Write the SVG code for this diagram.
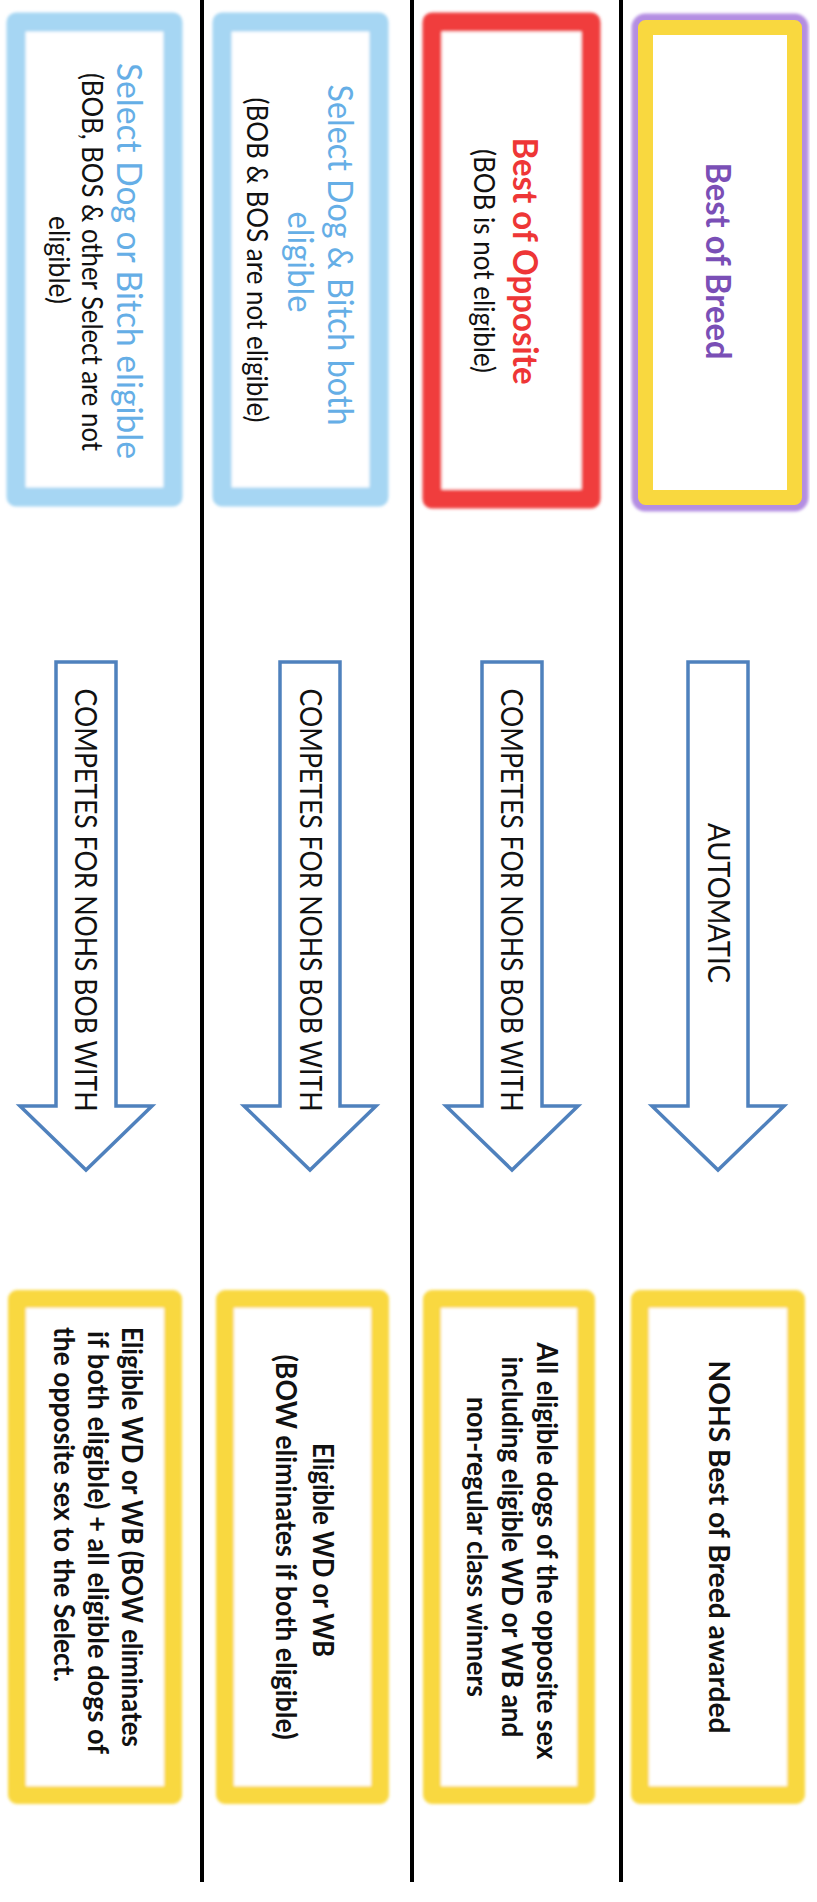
<svg xmlns="http://www.w3.org/2000/svg" xmlns:xlink="http://www.w3.org/1999/xlink" width="817" height="1902" viewBox="0 0 817 1902">
<style>
  text { font-family: Lato, "Open Sans", "Liberation Sans", sans-serif; }
  .title { font-size: 35px; text-anchor: middle; }
  .bold { font-weight: bold; }
  .note { font-size: 28px; fill: #111; text-anchor: middle; }
  .arrowtxt { font-size: 31px; fill: #111; text-anchor: middle; }
  .out { font-size: 28px; font-weight: bold; fill: #111; text-anchor: middle; }
  .outl { font-size: 28px; font-weight: bold; fill: #111; text-anchor: start; }
  .blue { fill: #65aee6; }
  .red { fill: #ee3636; }
  .purple { fill: #7a4fb6; }
  .sep { stroke: #000; stroke-width: 4; fill: none; }
  .bbox { fill: #fff; stroke: #a6d6f3; stroke-width: 19; stroke-linejoin: round; }
  .rbox { fill: #fff; stroke: #f03d3d; stroke-width: 19; stroke-linejoin: round; }
  .ybox { fill: #fff; stroke: #f9d83f; stroke-width: 18; stroke-linejoin: round; }
  .pglow { fill: none; stroke: #b48ee2; stroke-width: 28; stroke-linejoin: round; }
  .yin { fill: #fff; stroke: #f9d83f; stroke-width: 15; stroke-linejoin: round; }
  .arrow { fill: #fff; stroke: #4f81bd; stroke-width: 3.5; stroke-linejoin: miter; }
</style>
<defs>
  <filter id="soft" x="-10%" y="-10%" width="120%" height="120%">
    <feGaussianBlur stdDeviation="1.4"/>
  </filter>
  <path id="blockArrow" d="M-30,662 H30 V1106 H66 L0,1170 L-66,1106 H-30 Z"/>
</defs>
<rect x="0" y="0" width="817" height="1902" fill="#fff"/>

<g id="separators">
  <line class="sep" x1="202" y1="0" x2="202" y2="1882"/>
  <line class="sep" x1="412" y1="0" x2="412" y2="1882"/>
  <line class="sep" x1="621" y1="0" x2="621" y2="1882"/>
</g>

<!-- Top row -->
<g id="select-dog-or-bitch">
  <rect class="bbox" x="16" y="22" width="157" height="475" filter="url(#soft)"/>
  <text class="title blue" transform="translate(117,261) rotate(90)" textLength="396" lengthAdjust="spacingAndGlyphs">Select Dog or Bitch eligible</text>
  <text class="note" transform="translate(82,262) rotate(90)" textLength="378" lengthAdjust="spacingAndGlyphs">(BOB, BOS &amp; other Select are not</text>
  <text class="note" transform="translate(49,260) rotate(90)" textLength="88" lengthAdjust="spacingAndGlyphs">eligible)</text>
</g>

<g id="select-dog-and-bitch">
  <rect class="bbox" x="222" y="22" width="157" height="475" filter="url(#soft)"/>
  <text class="title blue" transform="translate(328,255) rotate(90)" textLength="341" lengthAdjust="spacingAndGlyphs">Select Dog &amp; Bitch both</text>
  <text class="title blue" transform="translate(288,262) rotate(90)" textLength="101" lengthAdjust="spacingAndGlyphs">eligible</text>
  <text class="note" transform="translate(247,260) rotate(90)" textLength="325" lengthAdjust="spacingAndGlyphs">(BOB &amp; BOS are not eligible)</text>
</g>

<g id="best-of-opposite">
  <rect class="rbox" x="432" y="22" width="159" height="477" filter="url(#soft)"/>
  <text class="title bold red" transform="translate(513,261) rotate(90)" textLength="247" lengthAdjust="spacingAndGlyphs">Best of Opposite</text>
  <text class="note" transform="translate(474,261) rotate(90)" textLength="224" lengthAdjust="spacingAndGlyphs">(BOB is not eligible)</text>
</g>

<g id="best-of-breed">
  <rect class="pglow" x="645.5" y="27.5" width="149" height="470" filter="url(#soft)"/>
  <rect class="yin" x="645.5" y="27.5" width="149" height="470"/>
  <text class="title bold purple" transform="translate(706,261) rotate(90)" textLength="197" lengthAdjust="spacingAndGlyphs">Best of Breed</text>
</g>

<!-- Connectors -->
<g id="connectors">
  <use xlink:href="#blockArrow" class="arrow" transform="translate(86,0)"/>
  <use xlink:href="#blockArrow" class="arrow" transform="translate(310,0)"/>
  <use xlink:href="#blockArrow" class="arrow" transform="translate(512,0)"/>
  <use xlink:href="#blockArrow" class="arrow" transform="translate(718,0)"/>
  <text class="arrowtxt" transform="translate(75,900) rotate(90)" textLength="423" lengthAdjust="spacingAndGlyphs">COMPETES FOR NOHS BOB WITH</text>
  <text class="arrowtxt" transform="translate(300,900) rotate(90)" textLength="423" lengthAdjust="spacingAndGlyphs">COMPETES FOR NOHS BOB WITH</text>
  <text class="arrowtxt" transform="translate(501,900) rotate(90)" textLength="423" lengthAdjust="spacingAndGlyphs">COMPETES FOR NOHS BOB WITH</text>
  <text class="arrowtxt" transform="translate(708,903) rotate(90)" textLength="160" lengthAdjust="spacingAndGlyphs">AUTOMATIC</text>
</g>

<!-- Bottom row -->
<g id="outcome-select-or">
  <rect class="ybox" x="17" y="1299" width="156" height="496" filter="url(#soft)"/>
  <text class="outl" transform="translate(122,1327) rotate(90)" textLength="420" lengthAdjust="spacingAndGlyphs">Eligible WD or WB (BOW eliminates</text>
  <text class="outl" transform="translate(88,1331) rotate(90)" textLength="423" lengthAdjust="spacingAndGlyphs">if both eligible) + all eligible dogs of</text>
  <text class="outl" transform="translate(54,1327) rotate(90)" textLength="355" lengthAdjust="spacingAndGlyphs">the opposite sex to the Select.</text>
</g>

<g id="outcome-select-both">
  <rect class="ybox" x="225" y="1299" width="155" height="496" filter="url(#soft)"/>
  <text class="out" transform="translate(313,1550) rotate(90)" textLength="214" lengthAdjust="spacingAndGlyphs">Eligible WD or WB</text>
  <text class="out" transform="translate(276,1547) rotate(90)" textLength="385" lengthAdjust="spacingAndGlyphs">(BOW eliminates if both eligible)</text>
</g>

<g id="outcome-opposite">
  <rect class="ybox" x="432" y="1299" width="154" height="496" filter="url(#soft)"/>
  <text class="out" transform="translate(537,1551) rotate(90)" textLength="417" lengthAdjust="spacingAndGlyphs">All eligible dogs of the opposite sex</text>
  <text class="out" transform="translate(502,1547) rotate(90)" textLength="381" lengthAdjust="spacingAndGlyphs">including eligible WD or WB and</text>
  <text class="out" transform="translate(467,1547) rotate(90)" textLength="300" lengthAdjust="spacingAndGlyphs">non-regular class winners</text>
</g>

<g id="outcome-breed">
  <rect class="ybox" x="640" y="1299" width="156" height="496" filter="url(#soft)"/>
  <text class="out" transform="translate(709,1547) rotate(90)" textLength="373" lengthAdjust="spacingAndGlyphs">NOHS Best of Breed awarded</text>
</g>
</svg>
